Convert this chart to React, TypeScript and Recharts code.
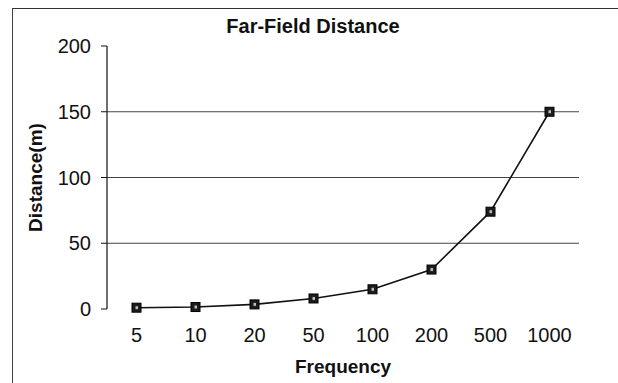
import React from 'react';
import { LineChart, Line, XAxis, YAxis, ReferenceLine } from 'recharts';

// values
const frequencies = ['5', '10', '20', '50', '100', '200', '500', '1000'];
const distances = [1, 1.5, 3.5, 8, 15, 30, 74, 150];
const yTicks = [0, 50, 100, 150, 200];
const gridValues = [50, 100, 150];

const FONT = 'Arial, "Liberation Sans", sans-serif';

const data = frequencies.map((f, i) => ({
    idx: i + 1,
    frequency: f,
    distance: distances[i],
}));

const labelTicks = frequencies.map((_, i) => i + 1);
const boundaryTicks = [...labelTicks.map(t => t - 0.5), frequencies.length + 0.5];

// Excel-style square marker
const SquareDot = (props: any) => {
    const { cx, cy } = props;
    if (cx == null || cy == null) return null;
    return (
        <g>
            <rect x={cx - 4.5} y={cy - 4.5} width={9} height={9} fill="#1c1c1c" stroke="#000" strokeWidth={1} />
            <rect x={cx - 1} y={cy - 1.5} width={2.5} height={3} fill="#bdbdbd" />
        </g>
    );
};

export default function App() {
    return (
        <div style={{ position: 'relative', width: 618, height: 383, background: '#fff', overflow: 'hidden' }}>
            <style>{`body { margin: 0; }`}</style>
            {/* chart frame, cut off at right/bottom in the scan */}
            <div
                style={{
                    position: 'absolute',
                    left: 12,
                    top: 8,
                    width: 620,
                    height: 400,
                    borderTop: '1.5px solid #333',
                    borderLeft: '1.5px solid #444',
                }}
            />
            <div
                style={{
                    position: 'absolute',
                    left: 0,
                    width: 626,
                    top: 14,
                    textAlign: 'center',
                    fontFamily: FONT,
                    fontWeight: 'bold',
                    fontSize: 20,
                    color: '#111',
                    lineHeight: '24px',
                }}
            >
                Far-Field Distance
            </div>
            <div style={{ position: 'absolute', left: 0, top: 0 }}>
                <LineChart
                    width={618}
                    height={383}
                    data={data}
                    margin={{ top: 46, right: 39, left: 0, bottom: 0 }}
                >
                    {/* tick marks between categories */}
                    <XAxis
                        xAxisId="marks"
                        type="number"
                        dataKey="idx"
                        domain={[0.5, frequencies.length + 0.5]}
                        ticks={boundaryTicks}
                        interval={0}
                        tick={false}
                        tickSize={6}
                        height={0}
                        axisLine={{ stroke: '#111', strokeWidth: 1.2 }}
                        tickLine={{ stroke: '#111' }}
                    />
                    <XAxis
                        xAxisId="cat"
                        type="number"
                        dataKey="idx"
                        domain={[0.5, frequencies.length + 0.5]}
                        ticks={labelTicks}
                        interval={0}
                        tickFormatter={(v: number) => frequencies[v - 1]}
                        tickSize={0}
                        tickMargin={19}
                        axisLine={false}
                        height={74}
                        tick={{ fill: '#111', fontSize: 20, fontFamily: FONT }}
                        label={{
                            content: ({ viewBox }: any) => (
                                <text
                                    x={viewBox.x + viewBox.width / 2}
                                    y={373}
                                    textAnchor="middle"
                                    fontFamily={FONT}
                                    fontWeight="bold"
                                    fontSize={19}
                                    fill="#111"
                                >
                                    Frequency
                                </text>
                            ),
                        }}
                    />
                    <YAxis
                        type="number"
                        domain={[0, 200]}
                        ticks={yTicks}
                        interval={0}
                        width={107}
                        tickSize={6}
                        tickMargin={10}
                        axisLine={{ stroke: '#111', strokeWidth: 1.2 }}
                        tickLine={{ stroke: '#111' }}
                        tick={{ fill: '#111', fontSize: 20, fontFamily: FONT }}
                        label={{
                            content: ({ viewBox }: any) => {
                                const x = viewBox.x + 35;
                                const y = viewBox.y + viewBox.height / 2;
                                return (
                                    <text
                                        x={x}
                                        y={y}
                                        transform={`rotate(-90 ${x} ${y})`}
                                        textAnchor="middle"
                                        dominantBaseline="central"
                                        fontFamily={FONT}
                                        fontWeight="bold"
                                        fontSize={19}
                                        fill="#111"
                                    >
                                        Distance(m)
                                    </text>
                                );
                            },
                        }}
                    />
                    {gridValues.map(v => (
                        <ReferenceLine key={v} xAxisId="cat" y={v} stroke="#444" strokeWidth={1.2} />
                    ))}
                    <Line
                        xAxisId="cat"
                        type="linear"
                        dataKey="distance"
                        stroke="#111"
                        strokeWidth={1.6}
                        dot={<SquareDot />}
                        activeDot={false}
                        isAnimationActive={false}
                    />
                </LineChart>
            </div>
        </div>
    );
}
